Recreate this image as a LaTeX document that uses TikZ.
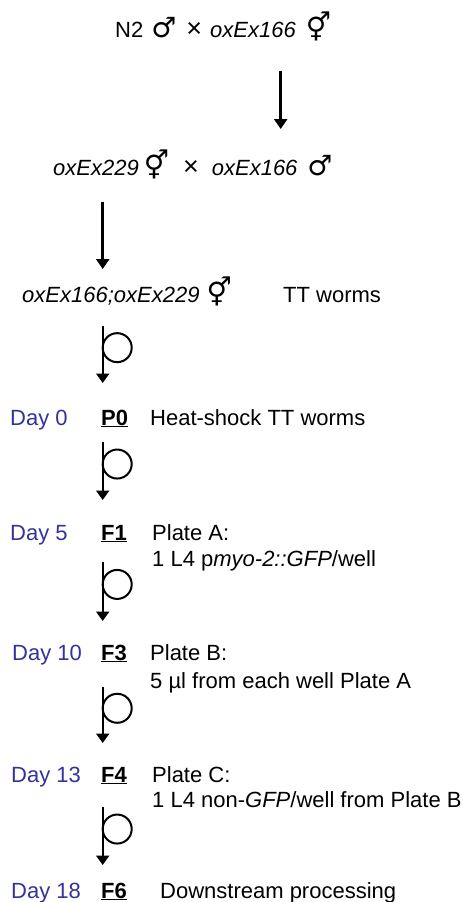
\documentclass[tikz,border=0pt]{standalone}
\usepackage{fontspec}
\setmainfont{Liberation Sans}
\newfontfamily\symfont{DejaVu Sans}
\usepackage{tikz}
\usetikzlibrary{arrows.meta}
\definecolor{dayblue}{RGB}{51,51,153}
\newcommand{\msign}{{\fontsize{28}{28}\symfont ♂}}
\newcommand{\hsign}{{\fontsize{28}{28}\symfont ⚥}}
\newcommand{\xsign}{{\fontsize{27}{27}\selectfont ×}}
\newcommand{\gen}[1]{\underline{\textbf{#1}}}

\begin{document}
\begin{tikzpicture}[x=1pt,y=-1pt,
		every node/.style={inner sep=0pt, anchor=base west, font=\fontsize{22}{26}\selectfont},
		day/.style={text=dayblue},
		cross/.style={-{Triangle[width=13pt,length=10pt]}, line width=2.6pt},
		selfing/.style={-{Triangle[width=13pt,length=9.5pt]}, line width=2.2pt},
		loopcirc/.style={draw, line width=2pt, circle, minimum size=29pt, inner sep=0pt, outer sep=0pt, anchor=west}]
			\useasboundingbox (0,0) rectangle (463,902);

			\node (cross1) at (115,37) {N2\hspace{8pt}\msign\hspace{10pt}\xsign\hspace{8pt}\textit{oxEx166}\hspace{10pt}\hsign};
			\node (cross2) at (53,175) {\textit{oxEx229}\hspace{5pt}\hsign\hspace{14pt}\xsign\hspace{13pt}\textit{oxEx166}\hspace{10pt}\msign};
			\node (herm) at (22,302) {\textit{oxEx166;oxEx229}\hspace{7pt}\hsign};
			\node (tt) at (283,302) {TT worms};

			\node[day] (day0) at (10,425) {Day 0};
			\node (p0) at (101,425) {\gen{P0}};
			\node (heat) at (150,425) {Heat-shock TT worms};

			\node[day] (day5) at (10,540) {Day 5};
			\node (f1) at (101,540) {\gen{F1}};
			\node (plateA) at (152,540) {Plate A:};
			\node (wellA) at (152,566) {1 L4 p\textit{myo-2::GFP}/well};

			\node[day] (day10) at (12,660) {Day 10};
			\node (f3) at (101,660) {\gen{F3}};
			\node (plateB) at (150,660) {Plate B:};
			\node (wellB) at (150,688) {5 µl from each well Plate A};

			\node[day] (day13) at (11,782) {Day 13};
			\node (f4) at (101,782) {\gen{F4}};
			\node (plateC) at (152,782) {Plate C:};
			\node (wellC) at (152,807) {1 L4 non-\textit{GFP}/well from Plate B};

			\node[day] (day18) at (11,898) {Day 18};
			\node (f6) at (101,898) {\gen{F6}};
			\node (down) at (160,898) {Downstream processing};

			\draw[cross] ([xshift=165.7pt,yshift=-33.7pt]cross1.base west) -- ([xshift=227.7pt,yshift=46pt]cross2.base west);
			\draw[cross] ([xshift=49.7pt,yshift=-26.7pt]cross2.base west) -- ([xshift=80.7pt,yshift=33pt]herm.base west);

			\draw[selfing] ([xshift=80.7pt,yshift=-24pt]herm.base west) -- coordinate[pos=0.38] (m0) ([xshift=1.7pt,yshift=42pt]p0.base west);
			\draw[selfing] ([xshift=1.7pt,yshift=-17pt]p0.base west) -- coordinate[pos=0.38] (m1) ([xshift=1.7pt,yshift=40pt]f1.base west);
			\draw[selfing] ([xshift=1.7pt,yshift=-22pt]f1.base west) -- coordinate[pos=0.38] (m2) ([xshift=1.7pt,yshift=39pt]f3.base west);
			\draw[selfing] ([xshift=1.7pt,yshift=-27pt]f3.base west) -- coordinate[pos=0.38] (m3) ([xshift=1.7pt,yshift=39pt]f4.base west);
			\draw[selfing] ([xshift=1.7pt,yshift=-25pt]f4.base west) -- coordinate[pos=0.38] (m4) ([xshift=1.7pt,yshift=33pt]f6.base west);

			\node[loopcirc] (self0) at (m0) {};
			\node[loopcirc] (self1) at (m1) {};
			\node[loopcirc] (self2) at (m2) {};
			\node[loopcirc] (self3) at (m3) {};
			\node[loopcirc] (self4) at (m4) {};

		\end{tikzpicture}
\end{document}
